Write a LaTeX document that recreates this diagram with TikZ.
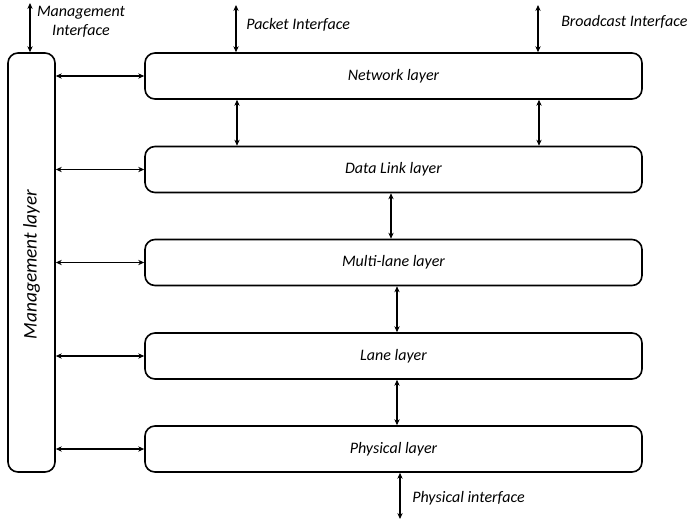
\documentclass[tikz,border=0pt]{standalone}
\usepackage{fontspec}
\setmainfont{Carlito}
\usetikzlibrary{arrows.meta}
\begin{document}
\begin{tikzpicture}[x=0.75pt,y=-0.75pt,
  layerbox/.style={draw,line width=1.2pt,rounded corners=7.5pt,inner sep=0pt},
  link/.style={line width=1pt,{Stealth[length=4.5pt,width=4pt]}-{Stealth[length=4.5pt,width=4pt]}},
  lbl/.style={font=\itshape\fontsize{12}{14}\selectfont,inner sep=0pt}]
\useasboundingbox (0,0) rectangle (689,519);

% management column
\node[layerbox,minimum width=47*0.75pt,minimum height=419*0.75pt] (mgmt) at (31.5,262.5) {};
\node[lbl,rotate=90,font=\itshape\fontsize{14.5}{17}\selectfont] at ([yshift=-2*0.75pt]mgmt.center) {Management layer};

% protocol stack
\foreach \nm/\yc/\txt in {net/76/Network layer, dll/169.5/Data Link layer, mll/262.5/Multi-lane layer, lane/356/Lane layer, phy/449/Physical layer}{
  \node[layerbox,minimum width=497*0.75pt,minimum height=46*0.75pt] (\nm) at (393.5,\yc) {};
  \node[lbl] at (\nm.center) {\txt};
}

% external interfaces
\coordinate (mgmtif) at (30,3);
\coordinate (pktif) at (236,5);
\coordinate (bcif) at (538,5);
\coordinate (phyif) at (400,519);
\draw[link] (mgmtif) -- (mgmtif |- mgmt.north);
\draw[link] (pktif) -- (pktif |- net.north);
\draw[link] (bcif) -- (bcif |- net.north);
\draw[link] (phyif |- phy.south) -- (phyif);
\node[lbl,align=center] at (81,22) {Management\\Interface};
\node[lbl,anchor=west] at (246,25) {Packet Interface};
\node[lbl,anchor=west] at (561,22) {Broadcast Interface};
\node[lbl,anchor=west] at (412,498) {Physical interface};

% links between adjacent layers
\draw[link] ([xshift=-156.5*0.75pt]net.south) -- ([xshift=-156.5*0.75pt]dll.north);
\draw[link] ([xshift=145.5*0.75pt]net.south) -- ([xshift=145.5*0.75pt]dll.north);
\draw[link] ([xshift=-2.5*0.75pt]dll.south) -- ([xshift=-2.5*0.75pt]mll.north);
\draw[link] ([xshift=3.5*0.75pt]mll.south) -- ([xshift=3.5*0.75pt]lane.north);
\draw[link] ([xshift=3.5*0.75pt]lane.south) -- ([xshift=3.5*0.75pt]phy.north);

% management links
\foreach \nm in {net,dll,mll,lane,phy}
  \draw[link] (mgmt.east |- \nm.west) -- (\nm.west);
\end{tikzpicture}
\end{document}
